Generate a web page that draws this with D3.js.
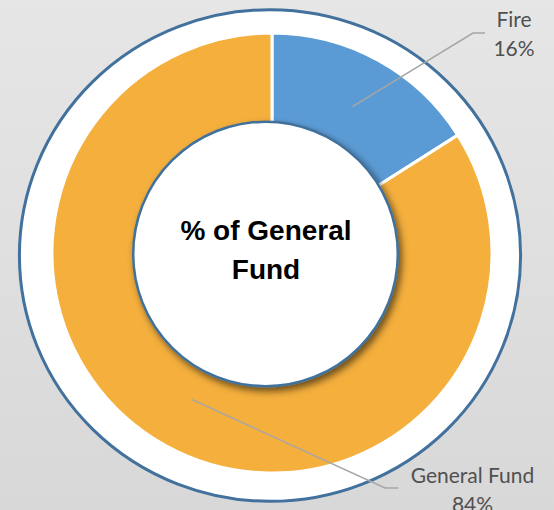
<!DOCTYPE html>
<html><head><meta charset="utf-8">
<script src="https://cdn.jsdelivr.net/npm/d3@7"></script>
<style>html,body{margin:0;padding:0;overflow:hidden;}svg{display:block;}</style>
</head><body>
<svg id="chart" width="554" height="510"></svg>
<script>
const categories = ["Fire", "General Fund"];
const values = [16, 84];
const percentLabels = ["16%", "84%"];
const centerTitle = ["% of General", "Fund"];
const colors = ["#5B9BD5", "#F4AF3D"];

const svg = d3.select("#chart");
const defs = svg.append("defs");
const grad = defs.append("linearGradient").attr("id","bg").attr("x1",0).attr("y1",0).attr("x2",0).attr("y2",1);
grad.append("stop").attr("offset","0%").attr("stop-color","#e6e6e6");
grad.append("stop").attr("offset","100%").attr("stop-color","#d8d8d8");
const filt = defs.append("filter").attr("id","shadow").attr("x","-20%").attr("y","-20%").attr("width","150%").attr("height","150%");
filt.append("feDropShadow").attr("dx",3).attr("dy",4).attr("stdDeviation",3.5).attr("flood-color","#000").attr("flood-opacity",0.55);

svg.append("rect").attr("width",554).attr("height",510).attr("fill","url(#bg)");

// outer ring frame
svg.append("ellipse").attr("cx",270).attr("cy",255.5).attr("rx",250.6).attr("ry",245.8)
  .attr("fill","#fff").attr("stroke","#41719C").attr("stroke-width",3);

const cx = 272, cy = 253;
const g = svg.append("g").attr("transform",`translate(${cx},${cy})`);
const pie = d3.pie().sort(null).value(d => d.v).startAngle(0).endAngle(2*Math.PI);
const data = pie(categories.map((c,i)=>({c, v: values[i], p: percentLabels[i], col: colors[i]})));
const arc = d3.arc().innerRadius(120).outerRadius(220);
g.selectAll("path.slice").data(data).join("path").attr("class","slice")
  .attr("d", arc).attr("fill", d => d.data.col).attr("stroke","#fff").attr("stroke-width",3).attr("stroke-linejoin","miter");

// center circle
svg.append("circle").attr("cx",265.5).attr("cy",254).attr("r",132.3)
  .attr("fill","#fff").attr("stroke","#41719C").attr("stroke-width",2.5).attr("filter","url(#shadow)");
const ct = svg.append("text").attr("x",266).attr("text-anchor","middle")
  .attr("font-family","'Liberation Sans', Arial, sans-serif").attr("font-weight","bold").attr("font-size",28).attr("fill","#000");
ct.selectAll("tspan").data(centerTitle).join("tspan").attr("x",266).attr("y",(d,i)=>240+i*39).text(d=>d);

// labels with leader lines
const leaderArc = d3.arc().innerRadius(167).outerRadius(167);
const labelPos = [
  {elbow:[473,33], end:[485,33], tx:514, ty:27},
  {elbow:[385,488], end:[398,488], tx:472.5, ty:483}
];
data.forEach((d,i) => {
  const c = leaderArc.centroid(d);
  const lp = labelPos[i];
  svg.append("polyline")
    .attr("points", [[c[0]+cx, c[1]+cy], lp.elbow, lp.end].map(p=>p.join(",")).join(" "))
    .attr("fill","none").attr("stroke","#a6a6a6").attr("stroke-width",1.5);
  const t = svg.append("text").attr("text-anchor","middle")
    .attr("font-family","Lato, 'Open Sans', sans-serif").attr("font-size",21).attr("fill","#505050");
  t.append("tspan").attr("x",lp.tx).attr("y",lp.ty).text(d.data.c);
  t.append("tspan").attr("x",lp.tx).attr("y",lp.ty+29).text(d.data.p);
});
</script>
</body></html>
